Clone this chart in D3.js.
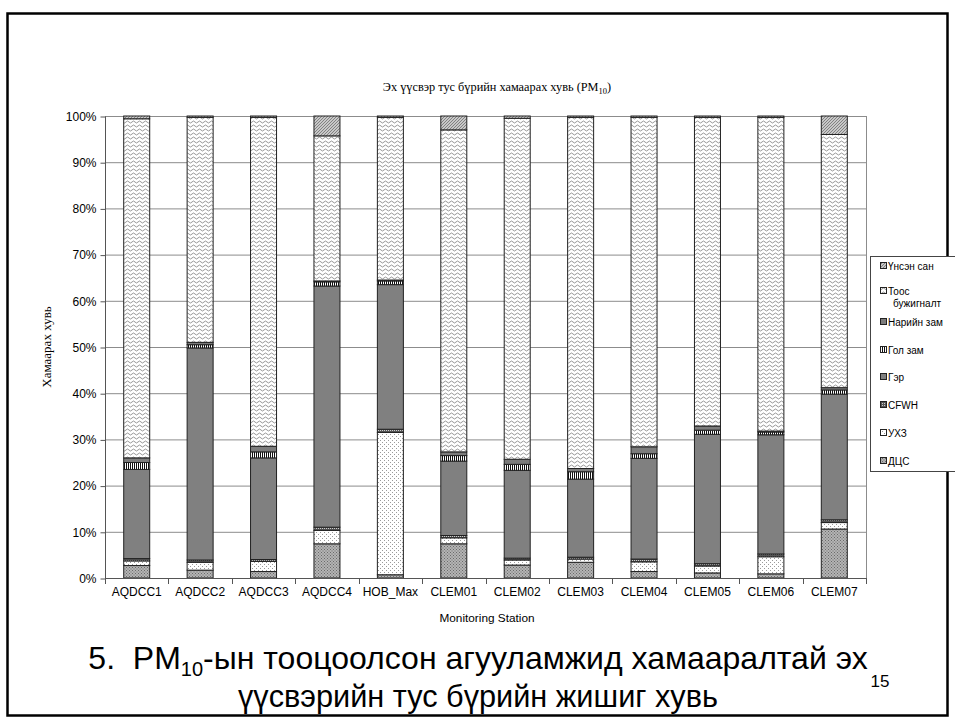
<!DOCTYPE html>
<html><head><meta charset="utf-8">
<script src="https://cdn.jsdelivr.net/npm/d3@7"></script>
<style>body{margin:0;background:#fff}svg{display:block}</style>
</head><body><svg id="c" width="955" height="722"></svg>
<script>
const categories = ["AQDCC1","AQDCC2","AQDCC3","AQDCC4","HOB_Max","CLEM01","CLEM02","CLEM03","CLEM04","CLEM05","CLEM06","CLEM07"];
const seriesNames = ["ДЦС","УХЗ","CFWH","Гэр","Гол зам","Нарийн зам","Тоос бужигналт","Үнсэн сан"];
const dcs      = [2.7, 1.7, 1.4, 7.4, 0.7, 7.4, 2.8, 3.4, 1.4, 1.1, 0.9, 10.6];
const uhz      = [1.0, 1.7, 2.2, 2.9, 30.8, 1.3, 1.1, 0.7, 2.1, 1.5, 3.7, 1.4];
const cfwh     = [0.5, 0.5, 0.4, 0.7, 0.7, 0.5, 0.4, 0.4, 0.6, 0.5, 0.6, 0.6];
const ger      = [19.3, 45.9, 22.0, 52.2, 31.3, 16.1, 19.0, 16.9, 21.8, 28.0, 25.8, 27.2];
const golZam   = [1.5, 0.7, 1.3, 0.9, 0.8, 1.2, 1.3, 1.6, 1.0, 0.9, 0.6, 0.9];
const nariinZam= [1.0, 0.5, 1.2, 0.2, 0.2, 0.8, 1.1, 0.7, 1.5, 0.9, 0.2, 0.5];
const toos     = [73.4, 48.7, 71.2, 31.4, 35.2, 69.7, 73.8, 76.0, 71.3, 66.8, 67.9, 54.8];
const unsen    = [0.6, 0.3, 0.3, 4.3, 0.3, 3.0, 0.5, 0.3, 0.3, 0.3, 0.3, 4.0];
const yTicks = [0,10,20,30,40,50,60,70,80,90,100];
const legendOrder = ["Үнсэн сан","Тоос бужигналт","Нарийн зам","Гол зам","Гэр","CFWH","УХЗ","ДЦС"];

const seriesValues = [dcs, uhz, cfwh, ger, golZam, nariinZam, toos, unsen];
const table = categories.map((c,i)=>{const o={cat:c}; seriesNames.forEach((s,j)=>o[s]=seriesValues[j][i]); return o;});

const svg = d3.select("#c");
const defs = svg.append("defs");
function pat(id,w,h,bg,draw){
  const p=defs.append("pattern").attr("id",id).attr("patternUnits","userSpaceOnUse").attr("width",w).attr("height",h);
  p.append("rect").attr("width",w).attr("height",h).attr("fill",bg);
  draw(p);
}
pat("pDcs",3,3,"#b4b4b4",p=>{p.append("rect").attr("x",0).attr("y",0).attr("width",1).attr("height",1).attr("fill","#6a6a6a");p.append("rect").attr("x",1.5).attr("y",1.5).attr("width",1).attr("height",1).attr("fill","#6a6a6a");});
pat("pUhz",4,4,"#fff",p=>{p.append("rect").attr("x",0).attr("y",0).attr("width",1).attr("height",1).attr("fill","#9a9a9a");p.append("rect").attr("x",2).attr("y",2).attr("width",1).attr("height",1).attr("fill","#9a9a9a");});
pat("pCfwh",2,2,"#555",p=>{p.append("rect").attr("width",1).attr("height",1).attr("fill","#ccc");});
pat("pGol",2,4,"#fff",p=>{p.append("rect").attr("x",0).attr("width",1).attr("height",4).attr("fill","#111");});
pat("pToos",6,4,"#fff",p=>{p.append("path").attr("d","M0,2 L1.5,1 L3,2 L4.5,3 L6,2").attr("fill","none").attr("stroke","#8a8a8a").attr("stroke-width",0.9);});
pat("pUnsen",3,3,"#c8c8c8",p=>{p.append("path").attr("d","M-1,1 L1,-1 M0,3 L3,0 M2,4 L4,2").attr("stroke","#6e6e6e").attr("stroke-width",0.8);});
const fills = {"ДЦС":"url(#pDcs)","УХЗ":"url(#pUhz)","CFWH":"url(#pCfwh)","Гэр":"#808080","Гол зам":"url(#pGol)","Нарийн зам":"#7c7c7c","Тоос бужигналт":"url(#pToos)","Үнсэн сан":"url(#pUnsen)"};

// frame
svg.append("rect").attr("x",7.5).attr("y",13.5).attr("width",940).attr("height",702).attr("fill","none").attr("stroke","#000").attr("stroke-width",2.5);

const x = d3.scaleBand().domain(categories).range([105,866]).paddingInner(0.59).paddingOuter(0.295);
const y = d3.scaleLinear().domain([0,100]).range([578,116]);

// gridlines
svg.append("g").selectAll("line").data(yTicks.filter(d=>d>0)).join("line")
  .attr("x1",105).attr("x2",866).attr("y1",d=>y(d)+0.5).attr("y2",d=>y(d)+0.5).attr("stroke","#8c8c8c").attr("stroke-width",1);
svg.append("line").attr("x1",866.5).attr("x2",866.5).attr("y1",y(100)).attr("y2",y(0)).attr("stroke","#8c8c8c");

// bars
const stack = d3.stack().keys(seriesNames)(table);
svg.append("g").selectAll("g").data(stack).join("g").attr("fill",d=>fills[d.key])
  .selectAll("rect").data(d=>d).join("rect")
  .attr("x",d=>x(d.data.cat)).attr("width",x.bandwidth())
  .attr("y",d=>y(d[1])).attr("height",d=>Math.max(0,y(d[0])-y(d[1])))
  .attr("stroke","#222").attr("stroke-width",1);

// y axis
const ya = svg.append("g").attr("transform","translate(105.5,0.5)").call(d3.axisLeft(y).tickValues(yTicks).tickFormat(d=>d+"%").tickSize(5).tickPadding(4));
ya.select(".domain").attr("stroke","#555").attr("d","M0,"+y(100)+"V"+y(0));
ya.selectAll(".tick line").attr("stroke","#555");
ya.selectAll("text").attr("font-family","Liberation Sans, Arial, sans-serif").attr("font-size",12).attr("fill","#000");

// x axis
const xa = svg.append("g").attr("transform","translate(0,578.5)").call(d3.axisBottom(x).tickSize(0).tickPadding(9));
xa.select(".domain").attr("stroke","#555").attr("d","M105,0H866");
xa.selectAll("text").attr("font-family","Liberation Sans, Arial, sans-serif").attr("font-size",12).attr("fill","#000");
svg.append("g").selectAll("line").data(d3.range(categories.length+1)).join("line")
  .attr("x1",i=>Math.round(x.range()[0]+i*x.step())+0.5).attr("x2",i=>Math.round(x.range()[0]+i*x.step())+0.5)
  .attr("y1",578).attr("y2",584).attr("stroke","#555");

// title
const t = svg.append("text").attr("x",497).attr("y",91).attr("text-anchor","middle").attr("font-family","Liberation Serif, Times New Roman, serif").attr("font-size",12.3);
t.append("tspan").text("Эх үүсвэр тус бүрийн хамаарах хувь (PM");
t.append("tspan").attr("font-size",8.5).attr("dy",3).text("10");
t.append("tspan").attr("dy",-3).text(")");

// y label
svg.append("text").attr("transform","translate(51,347) rotate(-90)").attr("text-anchor","middle")
  .attr("font-family","Liberation Serif, Times New Roman, serif").attr("font-size",13).text("Хамаарах хувь");
// x label
svg.append("text").attr("x",487).attr("y",622).attr("text-anchor","middle")
  .attr("font-family","Liberation Sans Narrow, Liberation Sans, Arial, sans-serif").attr("font-size",11.8).text("Monitoring Station");

// legend
svg.append("rect").attr("x",870.5).attr("y",256.5).attr("width",100).attr("height",215).attr("fill","#fff").attr("stroke","#444");
const legY = {"Үнсэн сан":266,"Тоос бужигналт":291,"Нарийн зам":322,"Гол зам":350,"Гэр":377,"CFWH":405,"УХЗ":433,"ДЦС":461};
const lg = svg.append("g").selectAll("g").data(legendOrder).join("g").attr("transform",d=>`translate(0,${legY[d]})`);
lg.append("rect").attr("x",880.5).attr("y",-3.5).attr("width",6).attr("height",6).attr("fill",d=>fills[d]).attr("stroke","#222");
lg.each(function(d){
  const g=d3.select(this);
  const tx=g.append("text").attr("x",888).attr("y",4).attr("font-family","Liberation Sans, Arial, sans-serif").attr("font-size",10);
  if(d==="Тоос бужигналт"){tx.append("tspan").text("Тоос");tx.append("tspan").attr("x",893).attr("dy",12).text("бужигналт");}
  else tx.text(d);
});

// caption
const cap = svg.append("text").attr("x",478).attr("y",669).attr("text-anchor","middle").attr("font-family","Liberation Sans, Arial, sans-serif").attr("font-size",32);
cap.append("tspan").text("5.\u00a0\u00a0PM");
cap.append("tspan").attr("font-size",20).attr("dy",7).text("10");
cap.append("tspan").attr("dy",-7).text("-ын тооцоолсон агууламжид хамааралтай эх");
svg.append("text").attr("x",478).attr("y",707).attr("text-anchor","middle").attr("font-family","Liberation Sans, Arial, sans-serif").attr("font-size",30.7).text("үүсвэрийн тус бүрийн жишиг хувь");
svg.append("text").attr("x",880).attr("y",687).attr("text-anchor","middle").attr("font-family","Liberation Sans, Arial, sans-serif").attr("font-size",17).text("15");
</script></body></html>
